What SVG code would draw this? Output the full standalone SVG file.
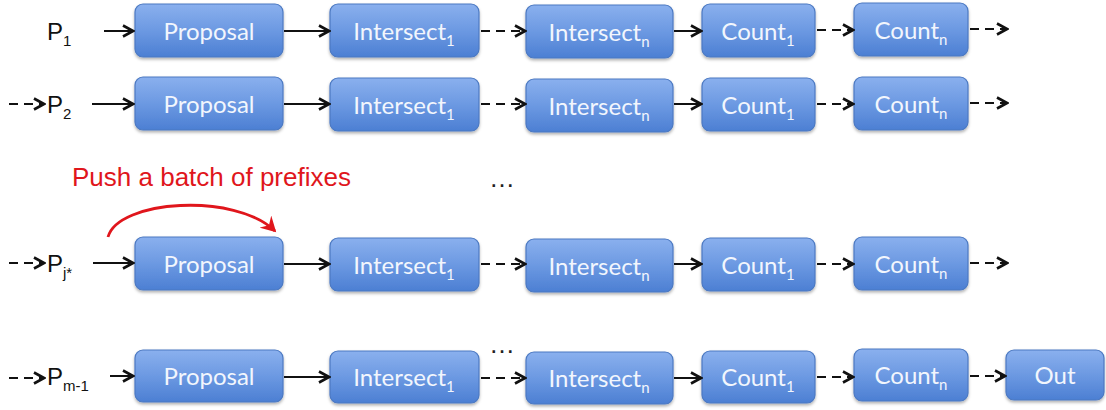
<svg xmlns="http://www.w3.org/2000/svg" width="1106" height="410" viewBox="0 0 1106 410">
<style>
.box{fill:url(#bg);stroke:#4C79C2;stroke-width:1.2;filter:url(#sh)}
.bt{font-family:Lato,"Open Sans",sans-serif;font-size:24px;fill:#F2F6FD;text-anchor:middle}
.sub{font-size:15px}
.pl{font-family:"Liberation Sans",Arial,sans-serif;font-size:24px;fill:#111}
.psub{font-size:15px}
.c{stroke:#111;stroke-width:2;fill:none;marker-end:url(#ah)}
.d{stroke-dasharray:9 6}
.red{font-family:"Liberation Sans",Arial,sans-serif;font-size:26px;fill:#E0161C}
.dots{font-family:"Liberation Sans",Arial,sans-serif;font-size:26px;fill:#222}
</style>
<defs>
<linearGradient id="bg" x1="0" y1="0" x2="0" y2="1">
<stop offset="0" stop-color="#8AB0EE"/>
<stop offset="0.5" stop-color="#6C99E2"/>
<stop offset="1" stop-color="#4C7FD3"/>
</linearGradient>
<filter id="sh" x="-10%" y="-10%" width="120%" height="140%">
<feDropShadow dx="0" dy="2" stdDeviation="1.5" flood-color="#000" flood-opacity="0.3"/>
</filter>
<marker id="ah" viewBox="0 0 13 14" refX="11.5" refY="7" markerWidth="13" markerHeight="14" orient="auto" markerUnits="userSpaceOnUse">
<path d="M1.5 1.5 L11.5 7 L1.5 12.5" fill="none" stroke="#111" stroke-width="2.6" stroke-linejoin="miter"/>
</marker>
<marker id="rh" viewBox="0 0 10 10" refX="8" refY="5" markerWidth="6" markerHeight="6" orient="auto" markerUnits="strokeWidth">
<path d="M0 0 L9 5 L0 10 L3 5 Z" fill="#E0161C"/>
</marker>
</defs>

<g id="labels">
<text class="pl" x="47" y="40">P<tspan class="psub" dy="6">1</tspan></text>
<text class="pl" x="47" y="113">P<tspan class="psub" dy="6">2</tspan></text>
<text class="pl" x="47" y="272">P<tspan class="psub" dy="6">j*</tspan></text>
<text class="pl" x="47" y="385">P<tspan class="psub" dy="6">m-1</tspan></text>
<text class="red" x="72" y="186">Push a batch of prefixes</text>
<text class="dots" x="489" y="187">…</text>
<text class="dots" x="489" y="353">…</text>
</g>

<g id="row1">
<g id="r1-proposal"><rect class="box" x="135" y="4" width="148" height="53" rx="8"/><text class="bt" x="209" y="40">Proposal</text></g>
<g id="r1-intersect1"><rect class="box" x="330" y="4" width="149" height="53" rx="8"/><text class="bt" x="404" y="40">Intersect<tspan class="sub" dy="6">1</tspan></text></g>
<g id="r1-intersectn"><rect class="box" x="526" y="5" width="147" height="53" rx="8"/><text class="bt" x="599" y="41">Intersect<tspan class="sub" dy="6">n</tspan></text></g>
<g id="r1-count1"><rect class="box" x="702" y="4" width="113" height="53" rx="8"/><text class="bt" x="758" y="40">Count<tspan class="sub" dy="6">1</tspan></text></g>
<g id="r1-countn"><rect class="box" x="854" y="3" width="114" height="53" rx="8"/><text class="bt" x="911" y="39">Count<tspan class="sub" dy="6">n</tspan></text></g>
</g>

<g id="row2">
<g id="r2-proposal"><rect class="box" x="135" y="77" width="148" height="53" rx="8"/><text class="bt" x="209" y="113">Proposal</text></g>
<g id="r2-intersect1"><rect class="box" x="330" y="78" width="149" height="53" rx="8"/><text class="bt" x="404" y="114">Intersect<tspan class="sub" dy="6">1</tspan></text></g>
<g id="r2-intersectn"><rect class="box" x="526" y="79" width="147" height="53" rx="8"/><text class="bt" x="599" y="115">Intersect<tspan class="sub" dy="6">n</tspan></text></g>
<g id="r2-count1"><rect class="box" x="702" y="78" width="113" height="53" rx="8"/><text class="bt" x="758" y="114">Count<tspan class="sub" dy="6">1</tspan></text></g>
<g id="r2-countn"><rect class="box" x="854" y="77" width="114" height="53" rx="8"/><text class="bt" x="911" y="113">Count<tspan class="sub" dy="6">n</tspan></text></g>
</g>

<g id="row3">
<g id="r3-proposal"><rect class="box" x="135" y="237" width="148" height="53" rx="8"/><text class="bt" x="209" y="273">Proposal</text></g>
<g id="r3-intersect1"><rect class="box" x="330" y="238" width="149" height="53" rx="8"/><text class="bt" x="404" y="274">Intersect<tspan class="sub" dy="6">1</tspan></text></g>
<g id="r3-intersectn"><rect class="box" x="526" y="239" width="147" height="53" rx="8"/><text class="bt" x="599" y="275">Intersect<tspan class="sub" dy="6">n</tspan></text></g>
<g id="r3-count1"><rect class="box" x="702" y="238" width="113" height="53" rx="8"/><text class="bt" x="758" y="274">Count<tspan class="sub" dy="6">1</tspan></text></g>
<g id="r3-countn"><rect class="box" x="854" y="237" width="114" height="53" rx="8"/><text class="bt" x="911" y="273">Count<tspan class="sub" dy="6">n</tspan></text></g>
</g>

<g id="row4">
<g id="r4-proposal"><rect class="box" x="135" y="350" width="148" height="52" rx="8"/><text class="bt" x="209" y="385">Proposal</text></g>
<g id="r4-intersect1"><rect class="box" x="330" y="351" width="149" height="52" rx="8"/><text class="bt" x="404" y="386">Intersect<tspan class="sub" dy="6">1</tspan></text></g>
<g id="r4-intersectn"><rect class="box" x="526" y="352" width="147" height="52" rx="8"/><text class="bt" x="599" y="387">Intersect<tspan class="sub" dy="6">n</tspan></text></g>
<g id="r4-count1"><rect class="box" x="702" y="351" width="113" height="52" rx="8"/><text class="bt" x="758" y="386">Count<tspan class="sub" dy="6">1</tspan></text></g>
<g id="r4-countn"><rect class="box" x="854" y="349" width="114" height="52" rx="8"/><text class="bt" x="911" y="384">Count<tspan class="sub" dy="6">n</tspan></text></g>
<g id="r4-out"><rect class="box" x="1006" y="350" width="98" height="50" rx="8"/><text class="bt" x="1055" y="384">Out</text></g>
</g>

<g id="connectors">
<!-- row 1 -->
<line class="c" x1="104" y1="31" x2="133" y2="31"/>
<line class="c" x1="284" y1="31" x2="329" y2="31"/>
<line class="c d" x1="481" y1="31" x2="525" y2="31"/>
<line class="c" x1="674" y1="31" x2="701" y2="31"/>
<line class="c d" x1="817" y1="30" x2="853" y2="30"/>
<line class="c d" x1="970" y1="29" x2="1007" y2="29"/>
<!-- row 2 -->
<line class="c d" x1="9" y1="104" x2="44" y2="104"/>
<line class="c" x1="92" y1="104" x2="133" y2="104"/>
<line class="c" x1="284" y1="104" x2="329" y2="104"/>
<line class="c d" x1="481" y1="104" x2="525" y2="104"/>
<line class="c" x1="674" y1="104" x2="701" y2="104"/>
<line class="c d" x1="817" y1="104" x2="853" y2="104"/>
<line class="c d" x1="970" y1="103" x2="1007" y2="103"/>
<!-- row 3 -->
<line class="c d" x1="9" y1="263" x2="44" y2="263"/>
<line class="c" x1="93" y1="263" x2="133" y2="263"/>
<line class="c" x1="284" y1="264" x2="329" y2="264"/>
<line class="c d" x1="481" y1="264" x2="525" y2="264"/>
<line class="c" x1="674" y1="264" x2="701" y2="264"/>
<line class="c d" x1="817" y1="264" x2="853" y2="264"/>
<line class="c d" x1="970" y1="263" x2="1007" y2="263"/>
<!-- row 4 -->
<line class="c d" x1="9" y1="378" x2="44" y2="378"/>
<line class="c" x1="110" y1="376" x2="133" y2="376"/>
<line class="c" x1="284" y1="377" x2="329" y2="377"/>
<line class="c d" x1="481" y1="378" x2="525" y2="378"/>
<line class="c" x1="674" y1="378" x2="701" y2="378"/>
<line class="c d" x1="817" y1="377" x2="853" y2="377"/>
<line class="c d" x1="970" y1="376" x2="1005" y2="376"/>
<!-- red push arc -->
<path d="M108 237 C118 200, 235 192, 275 231" fill="none" stroke="#E0161C" stroke-width="2.8" marker-end="url(#rh)"/>
</g>
</svg>
